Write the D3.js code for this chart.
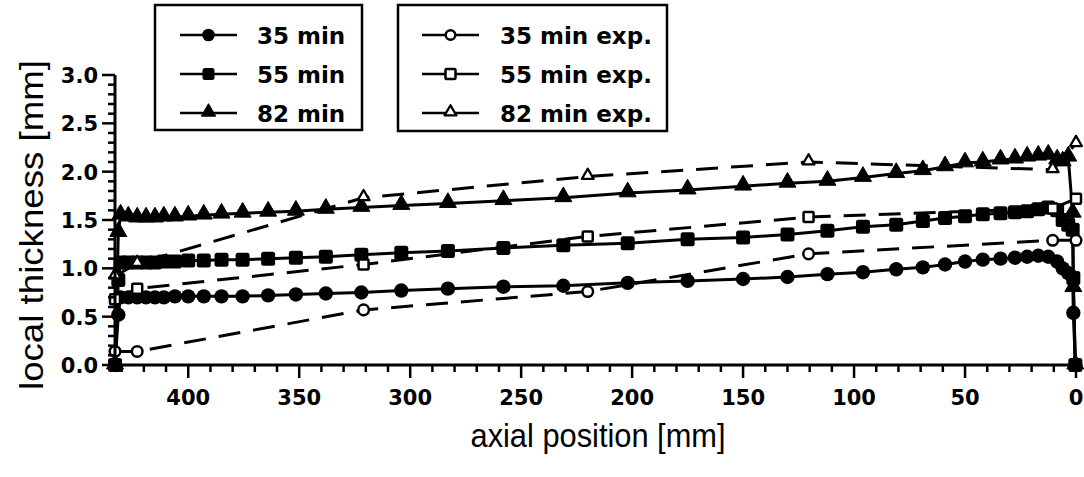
<!DOCTYPE html>
<html>
<head>
<meta charset="utf-8">
<script src="https://cdn.jsdelivr.net/npm/d3@7"></script>
<style>
  body { margin: 0; background: #fff; }
  svg { display: block; }
  .tick-label { font-family: "DejaVu Sans", sans-serif; font-weight: bold; font-size: 21px; }
  .leg-label { font-family: "DejaVu Sans", sans-serif; font-weight: bold; font-size: 23px; }
  .axis-title { font-family: "Liberation Sans", Arial, sans-serif; font-size: 33px; }
</style>
</head>
<body>
<svg id="chart" width="1084" height="477"></svg>
<script>
// simulation mesh (axial position, mm) shared by the three simulated curves
let sim_x = [433, 431.5, 430.5, 427, 423, 419, 415, 411, 406, 400, 393, 385, 375.5, 364, 351.5, 338, 322, 304, 283, 258,
  231, 202, 175, 150, 130, 112, 96, 81, 69, 59, 50, 42, 34, 27.5, 22, 17, 12.5, 8.5, 6, 3.5, 1.5, 1.2, 0.3];
let sim_35 = [0, 0.52, 0.70, 0.70, 0.70, 0.70, 0.70, 0.70, 0.71, 0.71, 0.71, 0.71, 0.71, 0.72, 0.73, 0.74, 0.75, 0.77, 0.79, 0.81,
  0.82, 0.85, 0.87, 0.89, 0.91, 0.94, 0.96, 0.99, 1.01, 1.04, 1.07, 1.09, 1.10, 1.11, 1.12, 1.13, 1.12, 1.07, 1.00, 0.95, 0.91, 0.54, 0];
let sim_55 = [0, 0.88, 1.06, 1.06, 1.06, 1.06, 1.06, 1.07, 1.07, 1.08, 1.08, 1.09, 1.09, 1.10, 1.11, 1.12, 1.14, 1.16, 1.18, 1.21,
  1.24, 1.26, 1.30, 1.32, 1.35, 1.39, 1.43, 1.45, 1.49, 1.52, 1.54, 1.56, 1.57, 1.58, 1.59, 1.61, 1.63, 1.60, 1.50, 1.45, 1.40, 0.90, 0];
let sim_82 = [0, 1.37, 1.55, 1.53, 1.52, 1.52, 1.52, 1.53, 1.53, 1.54, 1.55, 1.56, 1.57, 1.58, 1.59, 1.61, 1.63, 1.65, 1.67, 1.70,
  1.73, 1.78, 1.81, 1.85, 1.88, 1.90, 1.94, 1.98, 2.01, 2.05, 2.09, 2.10, 2.12, 2.13, 2.15, 2.16, 2.17, 2.12, 2.10, 2.15, 1.57, 0.8, 0];

// measured points
let exp_x = [433, 423, 321, 220, 120.5, 10.5, 0];
let exp_35 = [0.14, 0.14, 0.57, 0.76, 1.15, 1.29, 1.29];
let exp_55 = [0.68, 0.79, 1.04, 1.33, 1.53, 1.62, 1.72];
let exp_82 = [0.92, 1.05, 1.73, 1.95, 2.10, 2.02, 2.29];

let legend_sim = ['35 min', '55 min', '82 min'];
let legend_exp = ['35 min exp.', '55 min exp.', '82 min exp.'];
let x_ticks = [400, 350, 300, 250, 200, 150, 100, 50, 0];
let y_ticks = [0, 0.5, 1.0, 1.5, 2.0, 2.5, 3.0];

let svg = d3.select('#chart');
let m_left = 115, m_right = 1076, m_top = 75, m_bottom = 365;

let x = d3.scaleLinear().domain([433, 0]).range([m_left, m_right]);
let y = d3.scaleLinear().domain([0, 3]).range([m_bottom, m_top]);

let shapes = ['circle', 'square', 'triangle'];

function draw_marker(g, shape, cx, cy, filled, big){
  let fill = filled ? '#000' : '#fff';
  if(shape == 'circle'){
    let r = filled ? (big ? 7.2 : 6.3) : (big ? 5.3 : 4.8);
    g.append('circle').attr('cx', cx).attr('cy', cy).attr('r', r)
      .attr('fill', fill).attr('stroke', '#000').attr('stroke-width', filled ? 0 : 2.5);
  }else if(shape == 'square'){
    let a = filled ? (big ? 14 : 12) : 10;
    g.append('rect').attr('x', cx - a / 2).attr('y', cy - a / 2).attr('width', a).attr('height', a)
      .attr('rx', filled ? 2.5 : 1).attr('fill', fill).attr('stroke', '#000').attr('stroke-width', filled ? 0 : 2.5);
  }else{
    let size = filled ? (big ? 125 : 90) : 60;
    g.append('path').attr('d', d3.symbol().type(d3.symbolTriangle).size(size)())
      .attr('transform', 'translate(' + cx + ',' + (cy - 1) + ')')
      .attr('fill', fill).attr('stroke', '#000').attr('stroke-width', filled ? 1 : 2.3).attr('stroke-linejoin', 'round');
  }
}

let line = d3.line().x(d => x(d[0])).y(d => y(d[1]));

// simulated curves
let plot = svg.append('g').attr('class', 'plot');
[sim_35, sim_55, sim_82].forEach((vals, k) => {
  let pts = sim_x.map((d, i) => [d, vals[i]]);
  plot.append('path').attr('d', line(pts)).attr('fill', 'none').attr('stroke', '#000').attr('stroke-width', 3);
  let mg = plot.append('g');
  pts.forEach(p => draw_marker(mg, shapes[k], x(p[0]), y(p[1]), true, true));
});

// experimental curves
[exp_35, exp_55, exp_82].forEach((vals, k) => {
  let pts = exp_x.map((d, i) => [d, vals[i]]);
  plot.append('path').attr('d', line(pts)).attr('fill', 'none').attr('stroke', '#000').attr('stroke-width', 3)
    .attr('stroke-dasharray', '22,13');
  let mg = plot.append('g');
  pts.forEach(p => draw_marker(mg, shapes[k], x(p[0]), y(p[1]), false, true));
});

// x axis
let xa = svg.append('g').attr('class', 'x_axis');
xa.append('line').attr('x1', m_left).attr('x2', m_right).attr('y1', m_bottom).attr('y2', m_bottom)
  .attr('stroke', '#000').attr('stroke-width', 3);
d3.range(0, 431, 10).forEach(v => {
  let major = v % 50 == 0;
  xa.append('line').attr('x1', x(v)).attr('x2', x(v)).attr('y1', m_bottom).attr('y2', m_bottom + (major ? 13 : 7))
    .attr('stroke', '#000').attr('stroke-width', 2.5);
});
xa.selectAll('.tick-label').data(x_ticks).enter().append('text').attr('class', 'tick-label')
  .attr('x', d => x(d)).attr('y', m_bottom + 40).attr('text-anchor', 'middle').text(d => d);

// y axis
let ya = svg.append('g').attr('class', 'y_axis');
ya.append('line').attr('x1', m_left).attr('x2', m_left).attr('y1', m_top).attr('y2', m_bottom)
  .attr('stroke', '#000').attr('stroke-width', 3);
d3.range(0, 31).forEach(i => {
  let major = i % 5 == 0;
  ya.append('line').attr('x1', m_left).attr('x2', m_left - (major ? 13 : 7)).attr('y1', y(i / 10)).attr('y2', y(i / 10))
    .attr('stroke', '#000').attr('stroke-width', 2.5);
});
ya.selectAll('.tick-label').data(y_ticks).enter().append('text').attr('class', 'tick-label')
  .attr('x', m_left - 17).attr('y', d => y(d) + 8).attr('text-anchor', 'end').text(d => d.toFixed(1));

// axis titles
svg.append('text').attr('class', 'axis-title').attr('x', 598).attr('y', 447).attr('text-anchor', 'middle')
  .attr('textLength', 255).attr('lengthAdjust', 'spacingAndGlyphs')
  .text('axial position [mm]');
svg.append('text').attr('class', 'axis-title').attr('text-anchor', 'middle')
  .attr('textLength', 330).attr('lengthAdjust', 'spacingAndGlyphs')
  .attr('transform', 'translate(43,225) rotate(-90)').text('local thickness [mm]');

// legends
function legend(x0, y0, w, h, labels, filled, lx1, lx2, tx){
  let g = svg.append('g').attr('class', 'legend');
  g.append('rect').attr('x', x0).attr('y', y0).attr('width', w).attr('height', h)
    .attr('fill', '#fff').attr('stroke', '#000').attr('stroke-width', 2.5);
  labels.forEach((lab, i) => {
    let ly = 35 + i * 39;
    g.append('line').attr('x1', lx1).attr('x2', lx2).attr('y1', ly).attr('y2', ly)
      .attr('stroke', '#000').attr('stroke-width', 2.5);
    draw_marker(g, shapes[i], (lx1 + lx2) / 2, ly, filled, false);
    g.append('text').attr('class', 'leg-label').attr('x', tx).attr('y', ly + 9).text(lab);
  });
}
legend(155, 5, 207, 125, legend_sim, true, 180, 237, 257);
legend(398, 5, 269, 126, legend_exp, false, 422, 479, 500);
</script>
</body>
</html>
